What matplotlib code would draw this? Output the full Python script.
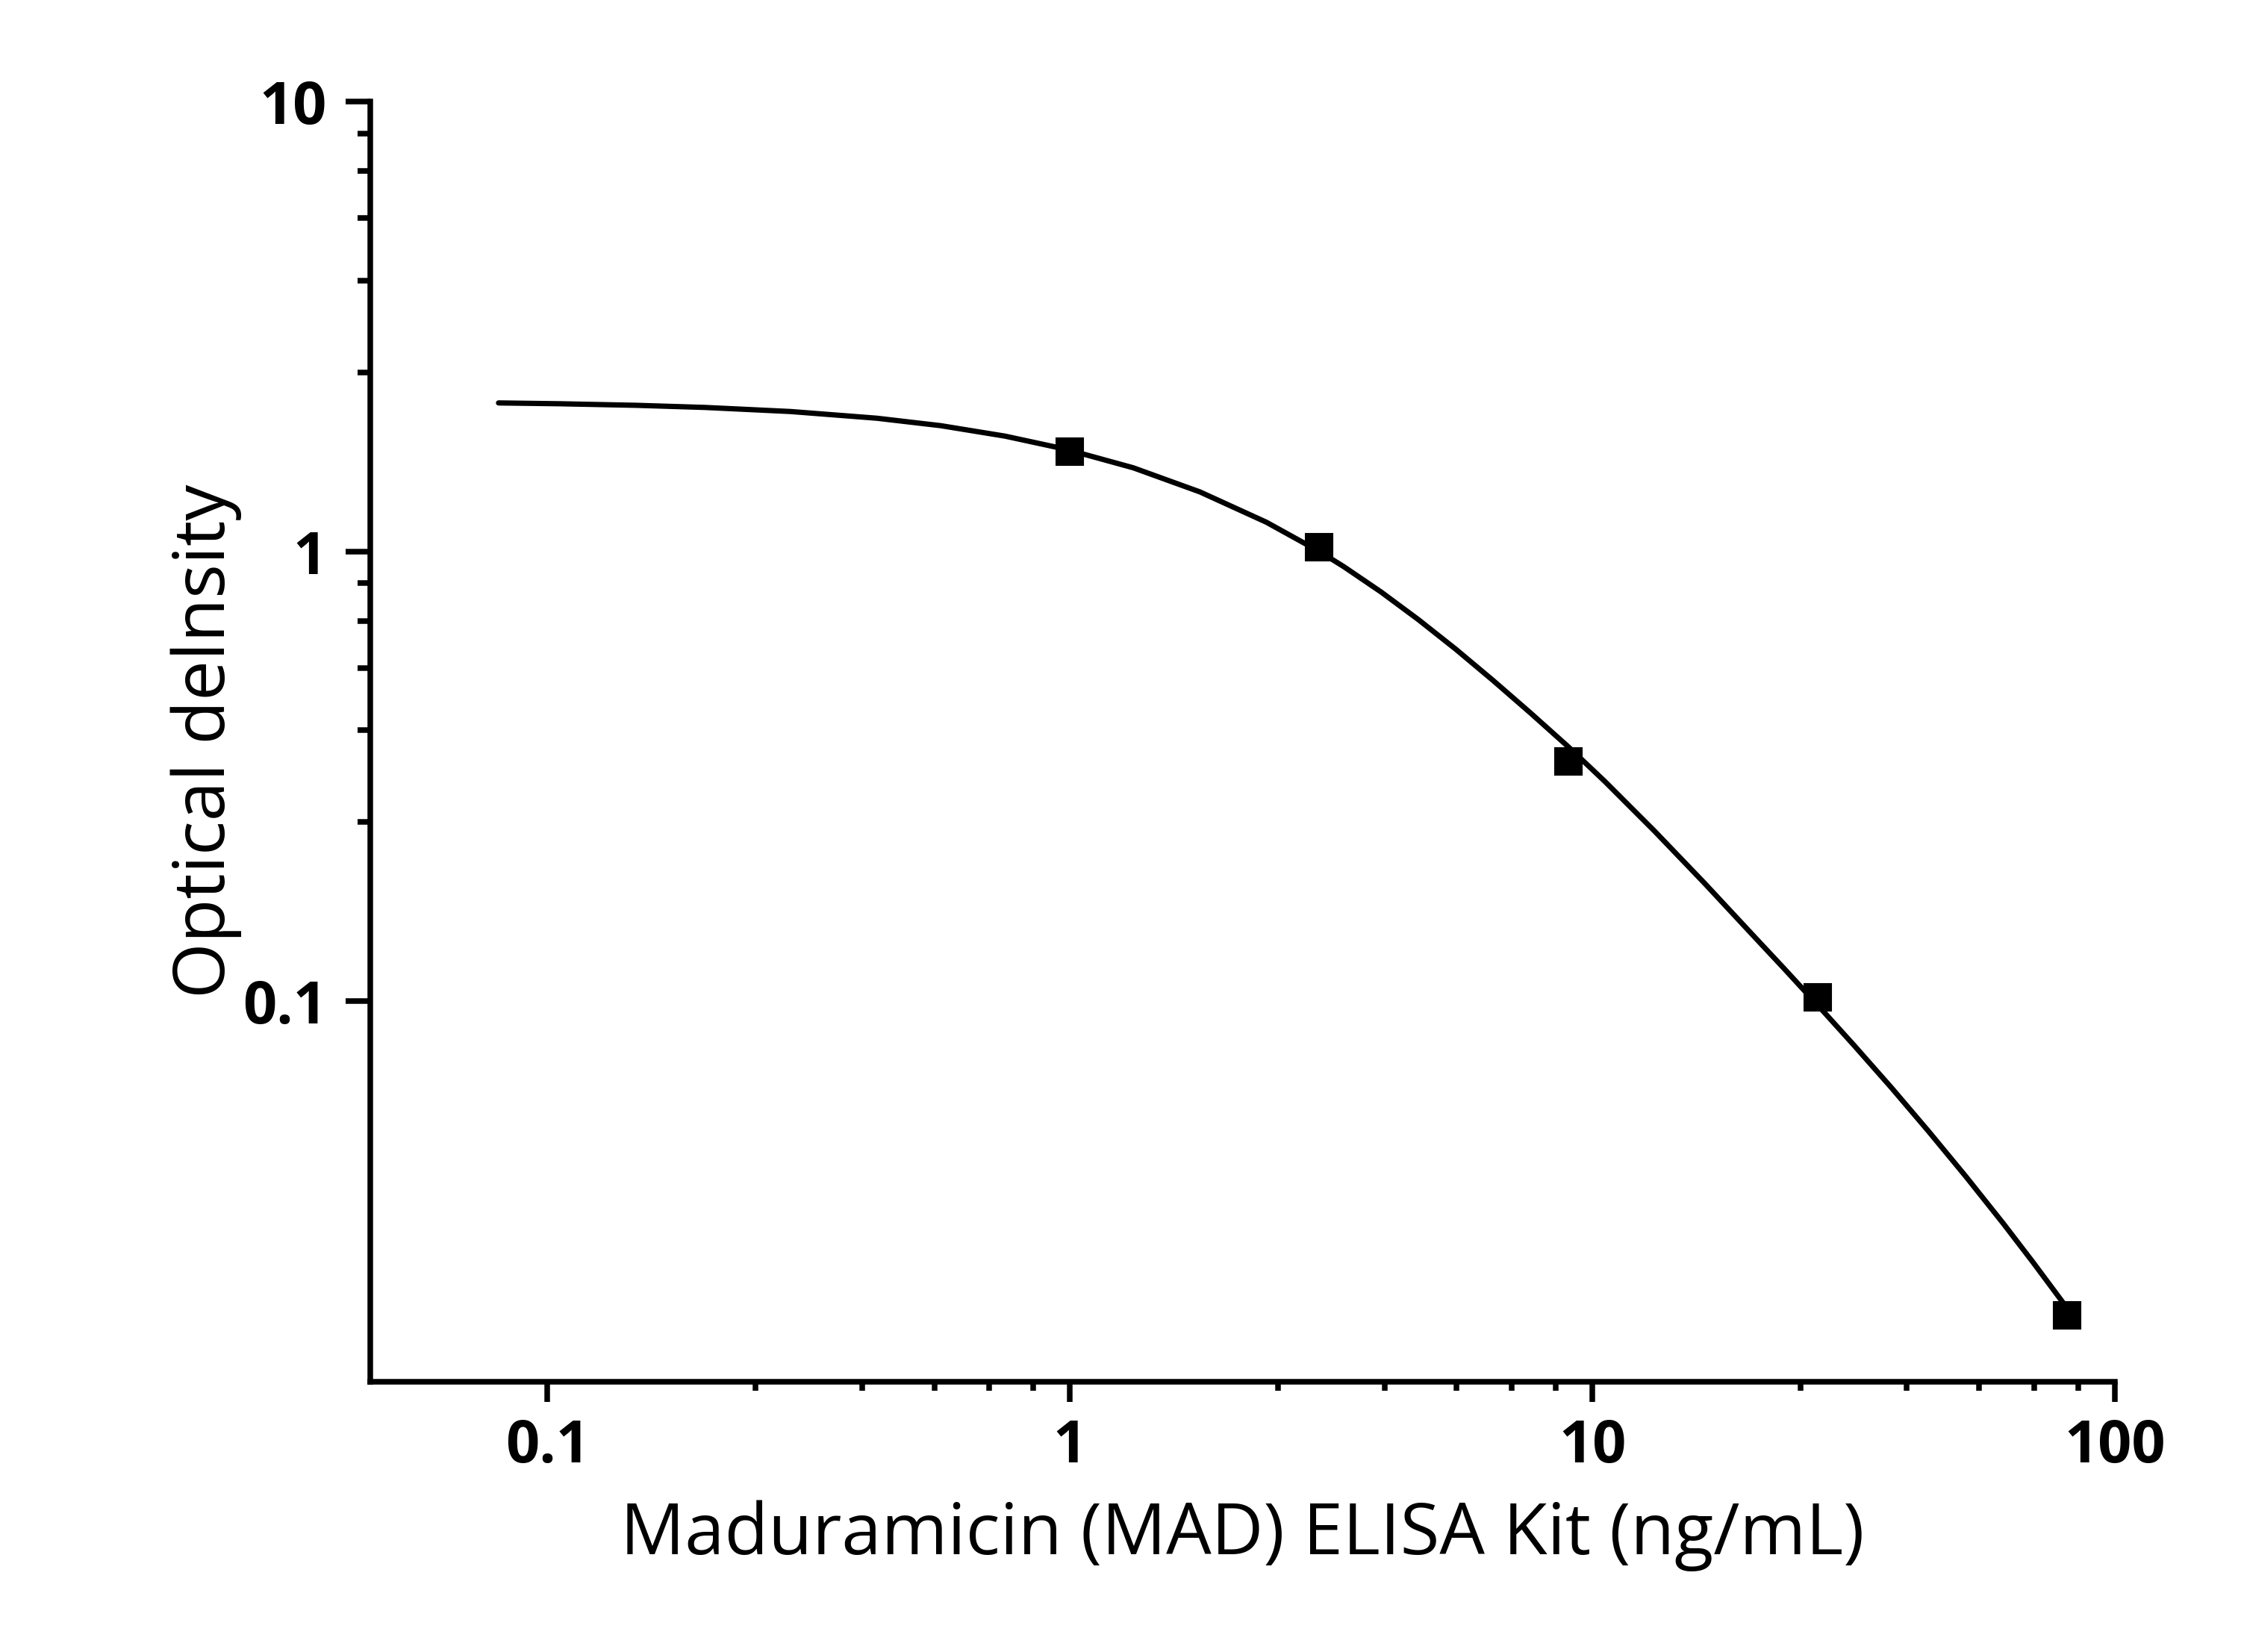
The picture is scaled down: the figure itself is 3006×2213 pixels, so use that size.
import matplotlib
matplotlib.use('Agg')
import matplotlib.pyplot as plt
from matplotlib.ticker import FixedLocator, NullFormatter

plt.rcParams['font.family'] = ['Open Sans', 'DejaVu Sans']

# measured standards
conc = [1, 3, 9, 27, 81]
od = [1.665, 1.02, 0.341, 0.102, 0.020]

# fitted curve
fit_x = [0.0806, 0.1054, 0.148, 0.2005, 0.292, 0.427, 0.566, 0.751, 0.943, 1.0,
         1.322, 1.773, 2.377, 3.0, 3.344, 3.942, 4.647, 5.478, 6.457, 7.61, 9.0,
         10.57, 13.17, 16.39, 20.42, 23.28, 27.0, 31.65, 37.33, 43.99, 51.84,
         61.11, 69.7, 81.0]
fit_y = [2.138, 2.129, 2.112, 2.089, 2.046, 1.977, 1.903, 1.804, 1.704, 1.677,
         1.534, 1.356, 1.161, 1.000, 0.9247, 0.8121, 0.7049, 0.6060, 0.5164, 0.4375,
         0.3675, 0.3079, 0.2385, 0.1830, 0.1391, 0.1182, 0.0980, 0.0799, 0.0643,
         0.0514, 0.0408, 0.0321, 0.0263, 0.0208]

x_major = [0.1, 1, 10, 100]
x_labels = ['0.1', '1', '10', '100']
x_minor = [0.25, 0.4, 0.55, 0.7, 0.85, 2.5, 4, 5.5, 7, 8.5, 25, 40, 55, 70, 85]
y_major = [0.1, 1, 10]
y_labels = ['0.1', '1', '10']
y_minor = [0.25, 0.4, 0.55, 0.7, 0.85, 2.5, 4, 5.5, 7, 8.5]

fig = plt.figure(figsize=(3006 / 300, 2213 / 300), dpi=300)
ax = fig.add_axes([496 / 3006, 1 - 1851 / 2213, (2833 - 496) / 3006, (1851 - 136) / 2213])

ax.plot(fit_x, fit_y, color='black', lw=1.7, solid_capstyle='round', solid_joinstyle='round')
ax.plot(conc, od, linestyle='none', marker='s', ms=8.5, mfc='black', mec='black', mew=0.5)

ax.set_xscale('log')
ax.set_yscale('log')
ax.set_xlim(0.0458, 100)
ax.set_ylim(0.01426, 10)

ax.xaxis.set_major_locator(FixedLocator(x_major))
ax.xaxis.set_minor_locator(FixedLocator(x_minor))
ax.set_xticklabels(x_labels)
ax.xaxis.set_minor_formatter(NullFormatter())
ax.yaxis.set_major_locator(FixedLocator(y_major))
ax.yaxis.set_minor_locator(FixedLocator(y_minor))
ax.set_yticklabels(y_labels)
ax.yaxis.set_minor_formatter(NullFormatter())

for s in ['top', 'right']:
    ax.spines[s].set_visible(False)
for s in ['left', 'bottom']:
    ax.spines[s].set_linewidth(1.8)

ax.tick_params(axis='x', which='major', length=6.5, width=1.8, pad=5, labelsize=19)
ax.tick_params(axis='x', which='minor', length=2.8, width=1.8)
ax.tick_params(axis='y', which='major', length=8, width=1.8, pad=6, labelsize=19)
ax.tick_params(axis='y', which='minor', length=4, width=1.8)
for lab in ax.get_xticklabels() + ax.get_yticklabels():
    lab.set_fontweight('bold')

fig.text(1664.5 / 3006, 1 - 2082 / 2213, 'Maduramicin (MAD) ELISA Kit (ng/mL)',
         fontsize=23, ha='center', va='baseline')
fig.text(301 / 3006, 1 - 993 / 2213, 'Optical delnsity', fontsize=23, rotation=90,
         rotation_mode='anchor', ha='center', va='baseline')

fig.savefig('out.png', dpi=300, facecolor='white')
